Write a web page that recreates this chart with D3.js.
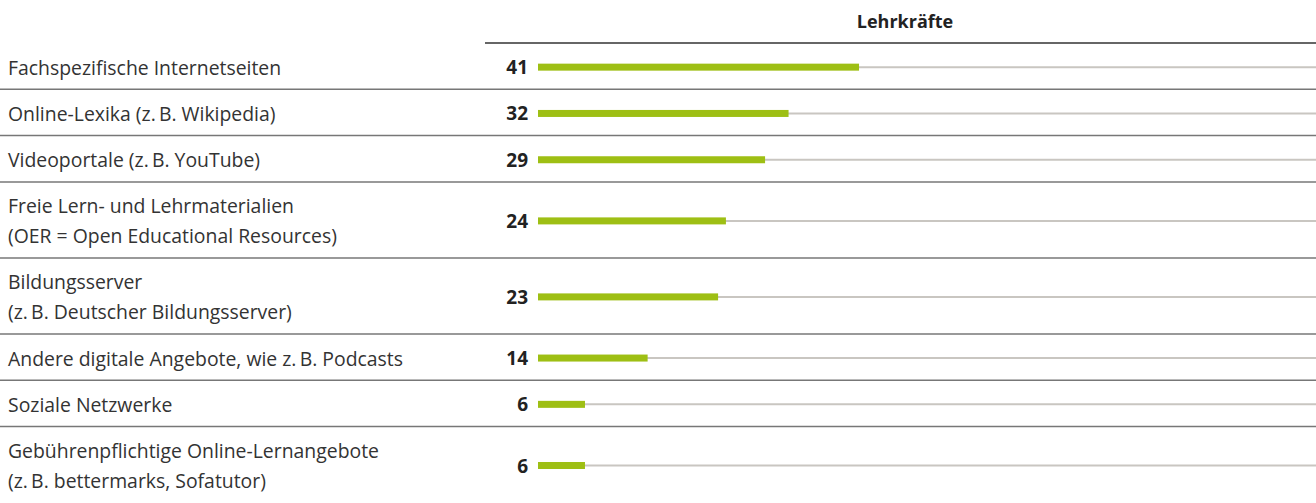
<!DOCTYPE html>
<html><head><meta charset="utf-8">
<script src="https://cdn.jsdelivr.net/npm/d3@7"></script>
<style>
html,body{margin:0;padding:0;background:#fff;}
svg{display:block;}
</style></head>
<body>
<script>
const categories = [
  ["Fachspezifische Internetseiten"],
  ["Online-Lexika (z.\u2009B. Wikipedia)"],
  ["Videoportale (z.\u2009B. YouTube)"],
  ["Freie Lern- und Lehrmaterialien", "(OER = Open Educational Resources)"],
  ["Bildungsserver", "(z.\u2009B. Deutscher Bildungsserver)"],
  ["Andere digitale Angebote, wie z.\u2009B. Podcasts"],
  ["Soziale Netzwerke"],
  ["Gebührenpflichtige Online-Lernangebote", "(z.\u2009B. bettermarks, Sofatutor)"]
];
const values = [41, 32, 29, 24, 23, 14, 6, 6];
const seriesName = "Lehrkräfte";

const W = 1316, H = 503;
const svg = d3.select("body").append("svg").attr("width", W).attr("height", H);

const topY = 43, singleH = 46.3, doubleH = 76;
const heights = categories.map(c => c.length > 1 ? doubleH : singleH);
const starts = heights.reduce((a, h, i) => { a.push(i ? a[i-1] + heights[i-1] : topY); return a; }, []);

const x = d3.scaleLinear().domain([0, 100]).range([538, 1321]);
const font = "'Open Sans', sans-serif";

// header
svg.append("text").attr("x", 905).attr("y", 28).attr("text-anchor", "middle")
  .attr("font-family", font).attr("font-weight", 700).attr("font-size", 18)
  .attr("fill", "#222").text(seriesName);
svg.append("line").attr("x1", 485).attr("x2", W).attr("y1", topY).attr("y2", topY)
  .attr("stroke", "#333").attr("stroke-width", 1.5);

const rows = svg.selectAll("g.row").data(values).join("g").attr("class", "row")
  .attr("transform", (d, i) => `translate(0,${starts[i]})`);

rows.each(function(d, i) {
  const g = d3.select(this);
  if (i < values.length - 1) {
    g.append("line").attr("x1", 0).attr("x2", W)
      .attr("y1", heights[i]).attr("y2", heights[i])
      .attr("stroke", "#777").attr("stroke-width", 1.5);
  }
  const lines = categories[i];
  const c = heights[i] / 2;
  const base = lines.length > 1 ? c - 6.5 : c + 8.5;
  lines.forEach((t, k) => {
    g.append("text").attr("class", "lbl").attr("x", 8).attr("y", base + k * 30)
      .attr("font-family", font).attr("font-size", 19.4).attr("fill", "#333").text(t);
  });
  const cy = c + 1;
  g.append("line").attr("x1", x(0)).attr("x2", W).attr("y1", cy).attr("y2", cy)
    .attr("stroke", "#c9c6c1").attr("stroke-width", 2);
  g.append("rect").attr("x", x(0)).attr("y", cy - 3.5).attr("width", x(d) - x(0)).attr("height", 7)
    .attr("fill", "#9ebf14");
  g.append("text").attr("x", 528).attr("y", cy + 7).attr("text-anchor", "end")
    .attr("font-family", font).attr("font-weight", 700).attr("font-size", 19)
    .attr("fill", "#222").text(d);
});
</script>
</body></html>
